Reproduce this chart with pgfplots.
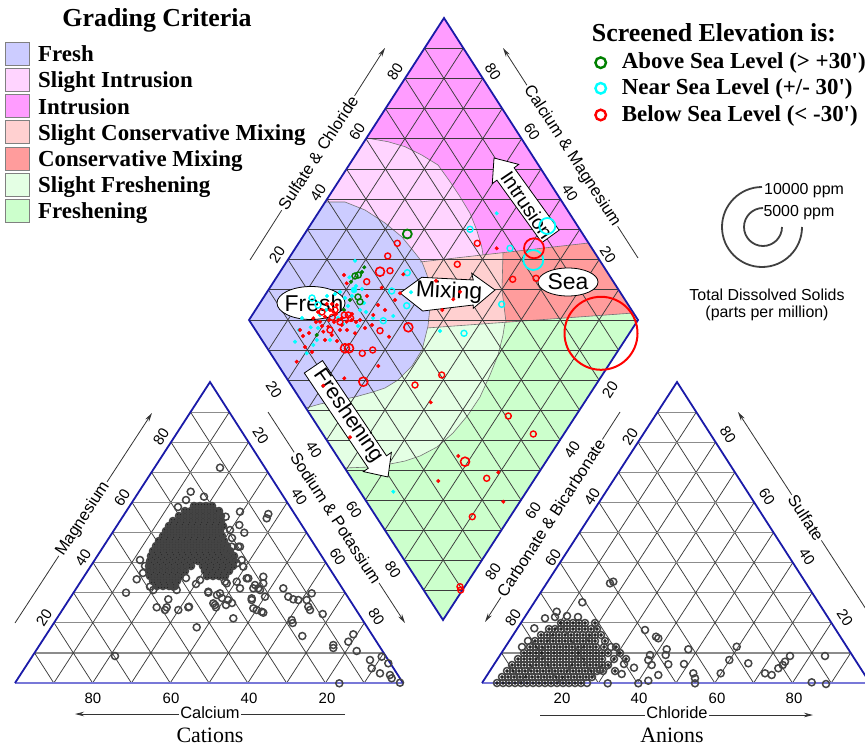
\documentclass[border=0pt]{standalone}
\usepackage{fontspec}
\setmainfont{Liberation Serif}[Ligatures=TeXOff]
\newfontfamily\lsans{Liberation Sans}[Ligatures=TeXOff]
\usepackage{pgfplots}
\usepackage{pgfplotstable}
\pgfplotsset{compat=1.18}
\usetikzlibrary{arrows.meta}
\definecolor{cFresh}{HTML}{CCCCFF}
\definecolor{cSInt}{HTML}{FFD4FF}
\definecolor{cInt}{HTML}{FF9CFF}
\definecolor{cSCM}{HTML}{FFD0D0}
\definecolor{cCM}{HTML}{FF9C9C}
\definecolor{cSF}{HTML}{E4FFE4}
\definecolor{cF}{HTML}{CCFFCC}
\definecolor{blueedge}{HTML}{1A1AA8}
\definecolor{baseblue}{HTML}{7878D8}
\definecolor{gridc}{HTML}{3C3C3C}
\definecolor{hgrid}{HTML}{8C8C8C}
\definecolor{ptgray}{HTML}{444444}
\definecolor{grn}{HTML}{008000}
\definecolor{cyn}{HTML}{00FFFF}
\tikzset{
 gl/.style={draw=gridc, line width=0.75bp},
 hl/.style={draw=hgrid, line width=1.2bp},
 be/.style={draw=blueedge, line width=1.8bp, line join=miter},
 bnd/.style={draw=black!55, line width=0.6bp},
 tk/.style={font=\lsans\fontsize{15}{15}\selectfont, inner sep=0pt},
 al/.style={font=\lsans\fontsize{16.5}{16.5}\selectfont, fill=white, inner sep=1.5bp},
 aline/.style={draw=black!80, line width=0.8bp, -{Stealth[length=9bp,width=4.5bp]}},
 big/.style={font=\lsans\fontsize{23}{23}\selectfont, inner sep=0pt},
 leg/.style={font=\bfseries\fontsize{23}{23}\selectfont, inner sep=0pt, anchor=base west},
}
% dense cluster of cation analyses (left triangle), pixel positions
\pgfplotstableread{
x y
194 506
200 506
206 506
212 506
185 511
191 511
197 511
203 511
209 511
215 511
219 511
179 516
185 516
191 516
197 516
203 516
209 516
215 516
221 516
173 521
179 521
185 521
191 521
197 521
203 521
209 521
215 521
221 521
169 526
175 526
181 526
187 526
193 526
199 526
205 526
211 526
217 526
223 526
166 531
172 531
178 531
184 531
190 531
196 531
202 531
208 531
214 531
220 531
163 536
169 536
175 536
181 536
187 536
193 536
199 536
205 536
211 536
217 536
222 536
159 541
165 541
171 541
177 541
183 541
189 541
195 541
201 541
207 541
213 541
219 541
224 541
156 546
162 546
168 546
174 546
180 546
186 546
192 546
198 546
204 546
210 546
216 546
222 546
227 546
153 551
159 551
165 551
171 551
177 551
183 551
189 551
195 551
201 551
207 551
213 551
219 551
225 551
230 551
151 556
157 556
163 556
169 556
175 556
181 556
187 556
193 556
199 556
205 556
211 556
217 556
223 556
229 556
234 556
150 561
156 561
162 561
168 561
174 561
180 561
186 561
192 561
198 561
204 561
210 561
216 561
222 561
228 561
234 561
149 566
155 566
161 566
167 566
173 566
179 566
185 566
191 566
203 566
209 566
215 566
221 566
227 566
233 566
149 571
155 571
161 571
167 571
173 571
179 571
185 571
205 571
211 571
217 571
223 571
229 571
150 576
156 576
162 576
168 576
174 576
180 576
207 576
213 576
219 576
225 576
153 581
159 581
165 581
171 581
177 581
157 586
163 586
169 586
175 586
}\leftblob
% dense cluster of anion analyses (right triangle), pixel positions
\pgfplotstableread{
x y
497 683
503 683
509 683
515 683
521 683
527 683
533 683
539 683
545 683
551 683
557 683
563 683
569 683
575 683
581 683
502 677
508 677
514 677
520 677
526 677
532 677
538 677
544 677
550 677
556 677
562 677
568 677
574 677
580 677
586 677
592 677
507 671
513 671
519 671
525 671
531 671
537 671
543 671
549 671
555 671
561 671
567 671
573 671
579 671
585 671
591 671
597 671
603 671
615 671
512 665
518 665
524 665
530 665
536 665
542 665
548 665
554 665
560 665
566 665
572 665
578 665
584 665
590 665
596 665
602 665
608 665
518 659
524 659
530 659
536 659
542 659
548 659
554 659
560 659
566 659
572 659
578 659
584 659
590 659
596 659
602 659
614 659
626 659
524 653
530 653
536 653
542 653
548 653
554 653
560 653
566 653
572 653
578 653
584 653
590 653
596 653
602 653
608 653
620 653
530 647
536 647
542 647
548 647
554 647
560 647
566 647
572 647
578 647
584 647
590 647
596 647
604 647
616 647
535 641
541 641
547 641
553 641
559 641
565 641
571 641
577 641
583 641
589 641
595 641
605 641
541 635
547 635
553 635
559 635
565 635
571 635
577 635
583 635
589 635
595 635
601 635
549 629
555 629
561 629
567 629
573 629
579 629
585 629
591 629
597 629
561 623
567 623
573 623
579 623
585 623
595 623
}\rightblob
\begin{document}
\begin{tikzpicture}
\begin{axis}[width=865bp,height=747bp,scale only axis,xmin=0,xmax=865,ymin=0,ymax=747,
  y dir=reverse,hide axis,clip=false]
% ---------- diamond regions ----------
\addplot[draw=none, fill=cF] coordinates {(444,18)(638,320)(443,620)(249,320)} -- cycle;
\addplot[draw=none, fill=cInt] coordinates {(261.7,339.7)(249,320)(444,18)(633.5,313)} -- cycle;
\addplot[draw=none, fill=cCM] coordinates {(400,264.3)(588.5,243)(633.5,313)(400,329.8)} -- cycle;
\addplot[draw=none, fill=cSCM] coordinates {(400,264.3)(503,252.6)(502,290)(506,322.2)(400,329.8)} -- cycle;
\addplot[draw=none, fill=cSInt] coordinates {(325.2,202)(366.5,138)(388,141.7)(405,146.7)(421.7,155)(438,165)(450,181.7)(460,196.7)(470,213.3)(476.7,230)(481.7,246.7)(483,254.9)(400,264.3)(380,240)} -- cycle;
\addplot[draw=none, fill=cSF] coordinates {(505,322.2)(503,335)(498,355)(490,375)(480,397)(468,415)(453,433)(437,447)(420,456)(405,461)(390,464)(370,467)(344.7,468)(291,385)(427,327.9)} -- cycle;
\addplot[draw=none, fill=cFresh] coordinates {(325.2,202)(345,202)(365,210)(385,223)(402,237)(415,253)(422,262)(427,275)(430,290)(430,307)(428,326)(422,350)(412,366)(398,380)(385,388)(373,392)(355,397)(340,400)(320,404)(305.9,408)(249,320)} -- cycle;
% boundaries
\draw[bnd] (325.2,202)--(345,202)--(365,210)--(385,223)--(402,237)--(415,253)--(422,262)--(427,275)--(430,290)--(430,307)--(428,326)--(422,350)--(412,366)--(398,380)--(385,388)--(373,392)--(355,397)--(340,400)--(320,404)--(305.9,408);
\draw[bnd] (366.5,138)--(388,141.7)--(405,146.7)--(421.7,155)--(438,165)--(450,181.7)--(460,196.7)--(470,213.3)--(476.7,230)--(481.7,246.7)--(483,254.9);
\draw[bnd] (505,322.2)--(503,335)--(498,355)--(490,375)--(480,397)--(468,415)--(453,433)--(437,447)--(420,456)--(405,461)--(390,464)--(370,467)--(344.7,468);
\draw[bnd] (428,327.9)--(633.5,313);
\draw[bnd] (420,262)--(588.5,243);
\draw[bnd] (503,252.6)--(502,290)--(506,322.2);
% ---------- grids ----------
\pgfplotsinvokeforeach{1,...,9}{
 \draw[gl] ({443+19.5*#1},{620-30*#1}) -- ({249+19.5*#1},{320-30.2*#1});
 \draw[gl] ({443-19.4*#1},{620-30*#1}) -- ({638-19.4*#1},{320-30.2*#1});
 \draw[gl] ({443-19.4*#1},{620-30*#1}) -- ({443+19.5*#1},{620-30*#1});
 \draw[gl] ({249+19.5*#1},{320-30.2*#1}) -- ({638-19.4*#1},{320-30.2*#1});
 \draw[hl] ({15+19.5*#1},{683-30.1*#1}) -- ({403-19.3*#1},{683-30.1*#1});
 \draw[gl] ({403-38.8*#1},683) -- ({210-19.5*#1},{382+30.1*#1});
 \draw[gl] ({15+38.8*#1},683) -- ({210+19.3*#1},{382+30.1*#1});
 \draw[hl] ({482+19.5*#1},{683-30.1*#1}) -- ({870-19.3*#1},{683-30.1*#1});
 \draw[gl] ({870-38.8*#1},683) -- ({677-19.5*#1},{382+30.1*#1});
 \draw[gl] ({482+38.8*#1},683) -- ({677+19.3*#1},{382+30.1*#1});
}
\draw[gl] (249,320) -- (638,320);
\draw[be] (444,18) -- (638,320) -- (443,620) -- (249,320) -- cycle;
\draw[draw=baseblue, line width=1.8bp] (15,683) -- (403,683);
\draw[draw=baseblue, line width=1.8bp] (482,683) -- (870,683);
\draw[be] (15,683) -- (210,382) -- (403,683);
\draw[be] (482,683) -- (677,382) -- (870,683);
% ---------- arrows and labels in diamond ----------
\draw[fill=white, line width=0.8bp] (400,293) -- (421.7,277.3) -- (473.3,280) -- (471.7,273.3) -- (495,290) -- (473.3,308.3) -- (473.3,305) -- (422.7,311) -- cycle;
\node[big, rotate=-3] at (449,292) {Mixing};
\draw[fill=white, line width=0.8bp] (494,158) -- (518.7,164.4) -- (514.1,167.8) -- (559.1,230.2) -- (541.9,242.6) -- (496.9,180.2) -- (492.3,183.6) -- cycle;
\node[font=\lsans\fontsize{20}{20}\selectfont, inner sep=0pt, rotate=-56] at (527,205) {Intrusion};
\draw[fill=white, line width=0.8bp] (388,477) -- (391.4,452.4) -- (386.5,455.8) -- (322.5,360.6) -- (304.3,373.0) -- (368.3,468.2) -- (363.4,471.6) -- cycle;
\node[font=\lsans\fontsize{21.5}{21.5}\selectfont, inner sep=0pt, rotate=-55.6] at (348,416) {Freshening};
\draw[fill=white, line width=0.8bp] (568,282) ellipse [x radius=30bp, y radius=14bp];
\node[big] at (568,282) {Sea};
\draw[fill=white, line width=0.8bp] (311,303) ellipse [x radius=34bp, y radius=16.5bp];
\node[big] at (314,303) {Fresh};
% ---------- triangle data (gray) ----------
\addplot[only marks, mark=*, mark size=2.5bp, draw=none, fill=ptgray] table {\leftblob};
\addplot[only marks, mark=o, mark size=3.5bp, draw=ptgray, line width=1.5bp] table {\leftblob};
\addplot[only marks, mark=*, mark size=1.5bp, draw=none, fill=ptgray] table {\rightblob};
\addplot[only marks, mark=o, mark size=3.5bp, draw=ptgray, line width=1.5bp] table {\rightblob};
\addplot[only marks, mark=o, mark size=3.5bp, draw=ptgray, line width=1.5bp] coordinates {
(220,467.7)(190.7,491.7)(204,496.7)(240,511.7)(268.3,514)(266.7,518.3)(225.7,516.7)(239.3,525)(244.3,532.7)
(140,560)(136.7,579.3)(126,592.7)(240,546.7)(231.7,546.7)(236.7,563.3)(241.7,560)(243.3,566.7)(228.3,551.7)(238.3,546.7)
(248.3,578.3)(263.3,576.7)(263.3,583.3)(236.7,581.7)(226.7,583.3)(240,588.3)(208.3,591.7)(220,593.3)(253.3,588.3)
(258.3,588.3)(255,585)(260,590)(265,596.7)(251.7,600)(251.7,598.3)(253.3,608.3)(283.3,588.3)(288.3,596.7)(293.3,599.3)
(298.3,600)(311.7,593.3)(306.7,600)(308.3,606.7)(310,610)(322.7,614)(291.7,620)(292.7,623)(302.3,636)(263.3,612.7)
(256.7,610)(261.7,611.7)(233.3,618.3)(217,595)(222,598)(228,600)(232,603)(226,605)(213.3,603.3)(216,607.3)(188.3,607.3)
(178.3,610)(196.7,627.3)(166.7,607.3)(165,610)(156.7,607.3)(168.3,599.3)(153.3,590)(150,586.7)(173.3,586.7)(176.7,590)
(115,656)(333.3,645)(333.3,648)(348.3,641.7)(353.3,634.3)(356.7,651)(339.3,683.3)(370,660)(371.7,668.3)(381.7,656.7)
(388.3,663.3)(380,673.3)(390,675)(391.7,678.3)(400,682.7)(189,606.7)(215,605)(208.3,592.7)(225,581.7)(246.7,578.3)
(145,566)(143,573)(186,500)(178,507)(230,530)(232,538)(196,584)(200,580)(186,578)
};
\addplot[only marks, mark=o, mark size=3.5bp, draw=ptgray, line width=1.5bp] coordinates {
(610,583.3)(613.3,581.7)(582.3,602.3)(545,618.3)(556.7,611.7)(534.3,628.3)(645,630)(656,636.7)(658.3,638.3)(666.7,649.3)
(665.7,655)(650,655)(648.3,660)(651.7,665)(668.3,664.3)(658.3,675)(648.3,680.7)(638.3,683.3)(607.7,683.3)(634,667.7)
(621.7,674)(688.3,649.3)(684,664)(693.3,673.3)(695,678.3)(695,683.3)(720.7,673.3)(729.3,660)(736.7,646.7)(748.3,663.3)
(765,673.3)(771.7,675)(778.3,668.3)(782.7,665)(785,661.7)(790,656)(825,656)(811.7,682.3)(826,684)(587,683)(600,670)
(555,617)(567,616)(578,617)(528,641)(522,647)(611,647)(624,664)
};
% ---------- diamond data ----------
\addplot[only marks, mark=*, mark size=1.8bp, draw=cyn, fill=cyn] coordinates {
(496.7,213.3)(355,260.7)(349.3,277.3)(335,294)(411,292.3)(393.3,316)(320,315)(310.7,327.3)(295,341.7)(306.7,353.3)
(316.7,340)(313.3,345)(440,331)(393.3,491.7)(340,292)(345,298)(352,296)(360,310)(366,312)(373,318)(330,340)(326,310)
(338,318)(343,324)(327,296)(356,286)(362,289)(348,306)(318,328)(358,326)(302,318)(299,330)(364,303)};
\addplot[only marks, mark=*, mark size=3bp, draw=cyn, fill=cyn] coordinates {(354,290)};
\addplot[only marks, mark=o, mark size=3bp, draw=cyn, line width=1.4bp] coordinates {
(470,229.3)(510,248.3)(501.7,304.3)(464,333.3)(391.7,291)(406.7,305.7)(383.3,320.7)(407.3,272.7)(312,298)(318,305)};
\addplot[only marks, mark=o, mark size=8bp, draw=cyn, line width=1.8bp] coordinates {(547.3,226)};
\addplot[only marks, mark=o, mark size=10bp, draw=cyn, line width=1.8bp] coordinates {(533.3,260)};
\addplot[only marks, mark=*, mark size=1.8bp, draw=grn, fill=grn] coordinates {
(364.3,267.3)(351,281.7)(350,300)(316.7,335)(344,310)(362,272)};
\addplot[only marks, mark=o, mark size=3bp, draw=grn, line width=1.4bp] coordinates {(355,276)(358.3,275)(360,301.7)(358,297)};
\addplot[only marks, mark=o, mark size=4.5bp, draw=grn, line width=1.8bp] coordinates {(407.3,234)};
\addplot[only marks, mark=*, mark size=1.8bp, draw=red, fill=red] coordinates {
(403.3,274.3)(344,275)(346.7,283.3)(381.7,287.7)(400,293.3)(436,280.7)(442.3,310)(385,310)(373.3,315)(389,336.7)
(313.3,318.3)(320,321.7)(325,316.7)(333.3,311.7)(338.3,320)(341.7,325)(346.7,321.7)(351.7,320)(328.3,326.7)(323.3,331.7)
(331.7,335)(340,330)(355,333.3)(330,310)(336.7,305)(326.7,304)(332,304)(296.7,361.7)(378.3,366)(344.3,378.3)
(323.3,385.7)(430.7,402.3)(350,437.3)(458.3,456)(498.3,472.3)(438.3,481)(503.3,501.7)(496.7,248.3)(460,291.7)(453.3,299.3)
(367,296)(360,320)(365,328)(372,325)(378,305)(395,300)(318,312)(322,326)(336,314)(342,318)(347,330)(352,314)(356,322)
(329,320)(334,322)(316,322)(337,341)(325,340)(303,336)(309,333)(300,330)(312,352)(305,347)};
\addplot[only marks, mark=o, mark size=3bp, draw=red, line width=1.4bp] coordinates {
(390,270.7)(366.7,281.7)(380,330.7)(362.3,353.3)(372.7,350)(415,385)(441.7,375)(457.3,264.3)(477.3,243.3)(536,278.3)
(335,310)(332.3,317.3)(344.3,315)(348.3,315)(350.7,318.3)(508.3,416)(533.3,434)(486.7,478.3)(472.3,516.7)(460,586.7)
(460.7,590)(387.7,256)(397.3,243.3)(512.7,279.3)(322,312)(340,322)(330,330)};
\addplot[only marks, mark=o, mark size=4.5bp, draw=red, line width=1.6bp] coordinates {
(380,271.7)(408.3,327.3)(345,348.3)(349,348.3)(363.3,381.7)(465,461.7)};
\addplot[only marks, mark=o, mark size=10bp, draw=red, line width=1.8bp] coordinates {(534,248.3)};
\addplot[only marks, mark=o, mark size=36.5bp, draw=red, line width=2bp] coordinates {(601,333.3)};
% ---------- axis labels ----------
\draw[aline] (345,714) -- (75,714);
\node[al] at (210,713) {Calcium};
\draw[aline] (15,623) -- (152,413);
\node[al, rotate=57] at (83,519) {Magnesium};
\draw[aline] (268,412) -- (405,623);
\node[al, rotate=-57] at (336,518) {Sodium \& Potassium};
\draw[aline] (540,715) -- (813,715);
\node[al] at (677,713) {Chloride};
\draw[aline] (620,412) -- (485,622);
\node[al, rotate=57] at (551,518) {Carbonate \& Bicarbonate};
\draw[aline] (875,623) -- (738,412);
\node[al, rotate=-57] at (806,518) {Sulfate};
\draw[aline] (250,260) -- (385,48);
\node[al, rotate=57] at (318,153) {Sulfate \& Chloride};
\draw[aline] (638,258) -- (503,48);
\node[al, rotate=-57] at (572,156) {Calcium \& Magnesium};
% ticks
\node[tk] at (93,698) {80}; \node[tk] at (171,698) {60}; \node[tk] at (249,698) {40}; \node[tk] at (327,698) {20};
\node[tk] at (562,698) {20}; \node[tk] at (639,698) {40}; \node[tk] at (717,698) {60}; \node[tk] at (794,698) {80};
\node[tk, rotate=57] at (44,618) {20}; \node[tk, rotate=57] at (83,558) {40}; \node[tk, rotate=57] at (122,497.5) {60}; \node[tk, rotate=57] at (161,437) {80};
\node[tk, rotate=-57] at (260.6,436) {20}; \node[tk, rotate=-57] at (299.2,496.4) {40}; \node[tk, rotate=-57] at (337.8,556.6) {60}; \node[tk, rotate=-57] at (376.4,616.8) {80};
\node[tk, rotate=57] at (277,255) {20}; \node[tk, rotate=57] at (318,193) {40}; \node[tk, rotate=57] at (357,132) {60}; \node[tk, rotate=57] at (395,72) {80};
\node[tk, rotate=-57] at (493,72) {80}; \node[tk, rotate=-57] at (532,132) {60}; \node[tk, rotate=-57] at (570,193) {40}; \node[tk, rotate=-57] at (608,255) {20};
\node[tk, rotate=-57] at (274,390) {20}; \node[tk, rotate=-57] at (314,450) {40}; \node[tk, rotate=-57] at (354,510) {60}; \node[tk, rotate=-57] at (393,570) {80};
\node[tk, rotate=57] at (610,390) {20}; \node[tk, rotate=57] at (572,450) {40}; \node[tk, rotate=57] at (533,511) {60}; \node[tk, rotate=57] at (493,572) {80};
\node[tk, rotate=57] at (630,437) {20}; \node[tk, rotate=57] at (592,497) {40}; \node[tk, rotate=57] at (553,558) {60}; \node[tk, rotate=57] at (513,618) {80};
\node[tk, rotate=-57] at (728,435) {80}; \node[tk, rotate=-57] at (767,497) {60}; \node[tk, rotate=-57] at (807,557) {40}; \node[tk, rotate=-57] at (845,618) {20};
\node[font=\fontsize{22}{22}\selectfont, inner sep=0pt, anchor=base] at (210,742) {Cations};
\node[font=\fontsize{22}{22}\selectfont, inner sep=0pt, anchor=base] at (672,742) {Anions};
% ---------- grading legend ----------
\node[font=\bfseries\fontsize{26}{26}\selectfont, inner sep=0pt, anchor=base] at (157,26.7) {Grading Criteria};
\draw[fill=cFresh, draw=gray] (5,42) rectangle (29,65);
\draw[fill=cSInt, draw=gray] (5,68.2) rectangle (29,91.2);
\draw[fill=cInt, draw=gray] (5,94.4) rectangle (29,117.4);
\draw[fill=cSCM, draw=gray] (5,120.6) rectangle (29,143.6);
\draw[fill=cCM, draw=gray] (5,146.8) rectangle (29,169.8);
\draw[fill=cSF, draw=gray] (5,173) rectangle (29,196);
\draw[fill=cF, draw=gray] (5,199.2) rectangle (29,222.2);
\node[leg] at (38,61.7) {Fresh};
\node[leg] at (38,87.9) {Slight Intrusion};
\node[leg] at (38,114.1) {Intrusion};
\node[leg] at (38,140.3) {Slight Conservative Mixing};
\node[leg] at (38,166.5) {Conservative Mixing};
\node[leg] at (38,192.7) {Slight Freshening};
\node[leg] at (38,218.9) {Freshening};
% ---------- elevation legend ----------
\node[font=\bfseries\fontsize{26}{26}\selectfont, inner sep=0pt, anchor=base west] at (591.7,41.7) {Screened Elevation is:};
\addplot[only marks, mark=o, mark size=5.3bp, draw=grn, line width=2.4bp] coordinates {(600.7,62.7)};
\addplot[only marks, mark=o, mark size=5.3bp, draw=cyn, line width=2.4bp] coordinates {(600.7,88.3)};
\addplot[only marks, mark=o, mark size=5.3bp, draw=red, line width=2.4bp] coordinates {(600.7,115)};
\node[leg] at (621.7,68.3) {Above Sea Level (> +30')};
\node[leg] at (621.7,95) {Near Sea Level (+/- 30')};
\node[leg] at (621.7,121.7) {Below Sea Level (< -30')};
% ---------- TDS legend ----------
\draw[line width=1.8bp, draw=black!75] (762,187) arc[start angle=90, end angle=360, radius=40bp];
\draw[line width=1.8bp, draw=black!75] (763,208) arc[start angle=90, end angle=360, radius=19bp];
\node[font=\lsans\fontsize{16}{16}\selectfont, inner sep=0pt, anchor=base west] at (764,195) {10000 ppm};
\node[font=\lsans\fontsize{16}{16}\selectfont, inner sep=0pt, anchor=base west] at (763.3,216.7) {5000 ppm};
\node[font=\lsans\fontsize{16}{16}\selectfont, inner sep=0pt, anchor=base] at (767,300) {Total Dissolved Solids};
\node[font=\lsans\fontsize{16}{16}\selectfont, inner sep=0pt, anchor=base] at (767,317) {(parts per million)};
\end{axis}
\pgfresetboundingbox
\path[use as bounding box] (current axis.south west) rectangle (current axis.north east);
\end{tikzpicture}
\end{document}
